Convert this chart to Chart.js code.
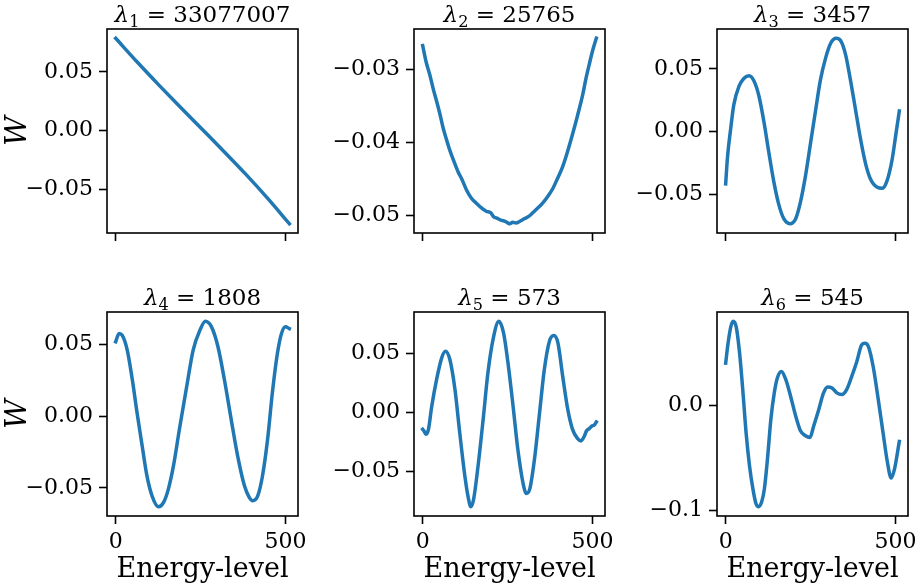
<!DOCTYPE html>
<html>
<head>
<meta charset="utf-8">
<script src="https://cdn.jsdelivr.net/npm/chart.js@4.4.1/dist/chart.umd.min.js"></script>
<style>
  html, body { margin: 0; padding: 0; background: #fff; }
  #wrap { position: relative; width: 917px; height: 588px; overflow: hidden; }
  canvas { position: absolute; }
</style>
</head>
<body>
<div id="wrap"></div>
<script>
// eigenvector components (energy level, W)
const lvl1 = [0, 64, 128, 192, 256, 320, 384, 448, 511];
const w1 = [0.0786, 0.0582, 0.0386, 0.0195, 0.0008, -0.0180, -0.0373, -0.0577, -0.0790];

const lvl2 = [0, 10, 21, 31, 41, 51, 60, 70, 80, 92, 104, 116, 129, 143, 158, 172, 187, 200, 210, 217,
  230, 244, 256, 265, 275, 285, 300, 312, 324, 338, 353, 368, 383, 397, 412, 426, 441, 456, 471, 480, 490, 500, 511];
const w2 = [-0.0268, -0.0290, -0.0308, -0.0327, -0.0344, -0.0362, -0.0380, -0.0396, -0.0411, -0.0426, -0.0440,
  -0.0451, -0.0465, -0.0476, -0.0483, -0.0489, -0.0494, -0.0496, -0.0502, -0.0503, -0.0506, -0.0508, -0.0511,
  -0.0509, -0.0510, -0.0508, -0.0504, -0.0501, -0.0496, -0.0490, -0.0483, -0.0474, -0.0463, -0.0449, -0.0433,
  -0.0413, -0.0389, -0.0363, -0.0335, -0.0314, -0.0294, -0.0275, -0.0258];

const lvl3 = [0, 5, 15, 24, 39, 54, 69, 83, 98, 113, 127, 142, 157, 171, 189, 206, 220, 235, 250, 265, 279, 294,
  309, 325, 340, 353, 367, 382, 397, 412, 426, 446, 461, 475, 490, 502, 511];
const w3 = [-0.0417, -0.0215, 0.0030, 0.0215, 0.0360, 0.0425, 0.0446, 0.0405, 0.0282, 0.0071, -0.0166, -0.0404,
  -0.0588, -0.0694, -0.0734, -0.0694, -0.0562, -0.0351, -0.0087, 0.0177, 0.0414, 0.0586, 0.0704, 0.0744, 0.0718,
  0.0612, 0.0414, 0.0177, -0.0061, -0.0259, -0.0377, -0.0443, -0.0451, -0.0390, -0.0220, 0.0000, 0.0164];

const lvl4 = [0, 10, 19, 34, 49, 63, 78, 92, 107, 126, 141, 155, 170, 189, 209, 228, 248, 264, 282, 301, 320,
  340, 359, 379, 393, 403, 418, 432, 447, 461, 476, 488, 500, 511];
const w4 = [0.0521, 0.0579, 0.0567, 0.0463, 0.0255, 0.0023, -0.0208, -0.0417, -0.0556, -0.0632, -0.0602, -0.0509,
  -0.0347, -0.0069, 0.0208, 0.0463, 0.0602, 0.0664, 0.0625, 0.0486, 0.0255, -0.0023, -0.0278, -0.0486, -0.0567,
  -0.0590, -0.0556, -0.0417, -0.0162, 0.0162, 0.0440, 0.0579, 0.0625, 0.0613];

const lvl5 = [0, 4, 9, 17, 26, 41, 56, 67, 80, 95, 109, 124, 134, 142, 150, 163, 178, 192, 207, 224, 238, 251,
  266, 280, 295, 305, 315, 329, 344, 358, 373, 386, 398, 412, 427, 441, 456, 466, 476, 482, 490, 498, 505, 511];
const w5 = [-0.0141, -0.0155, -0.0183, -0.0141, 0.0042, 0.0282, 0.0465, 0.0521, 0.0451, 0.0197, -0.0169, -0.0535,
  -0.0718, -0.0797, -0.0732, -0.0451, -0.0056, 0.0338, 0.0620, 0.0775, 0.0676, 0.0423, 0.0056, -0.0310, -0.0592,
  -0.0685, -0.0648, -0.0394, 0.0000, 0.0366, 0.0606, 0.0654, 0.0592, 0.0310, 0.0028, -0.0141, -0.0220, -0.0239,
  -0.0197, -0.0155, -0.0135, -0.0113, -0.0104, -0.0079];

const lvl6 = [0, 7, 15, 22, 31, 41, 51, 60, 70, 80, 89, 97, 106, 114, 123, 133, 143, 152, 164, 177, 191, 206,
  220, 235, 248, 259, 274, 288, 300, 313, 327, 342, 356, 371, 386, 400, 410, 420, 434, 449, 463, 476, 487, 497, 511];
const w6 = [0.0404, 0.0593, 0.0751, 0.0804, 0.0751, 0.0498, 0.0120, -0.0259, -0.0574, -0.0795, -0.0937, -0.0968,
  -0.0921, -0.0795, -0.0511, -0.0132, 0.0120, 0.0262, 0.0325, 0.0246, 0.0088, -0.0101, -0.0243, -0.0290, -0.0306,
  -0.0196, -0.0038, 0.0120, 0.0177, 0.0167, 0.0120, 0.0104, 0.0151, 0.0278, 0.0420, 0.0577, 0.0593, 0.0562,
  0.0372, 0.0057, -0.0259, -0.0543, -0.0694, -0.0606, -0.0344];

const levels = [lvl1, lvl2, lvl3, lvl4, lvl5, lvl6];
const weights = [w1, w2, w3, w4, w5, w6];

// titles: lambda_k = value
const lamIndex = ['1', '2', '3', '4', '5', '6'];
const lamValue = ['33077007', '25765', '3457', '1808', '573', '545'];

// tick labels
const xTicks = [0, 500];
const yTicks = [
  [-0.05, 0, 0.05],
  [-0.05, -0.04, -0.03],
  [-0.05, 0, 0.05],
  [-0.05, 0, 0.05],
  [-0.05, 0, 0.05],
  [-0.1, 0]
];
const yDecimals = [2, 2, 2, 2, 2, 1];
const nLevels = 512;

// layout of the plot boxes on the page
const colLeft = [107, 414, 717];
const rowTop = [29, 312];
const boxW = 191, boxH = 204;
const padL = 110, padT = 32, padR = 30, padB = 72;

const serif = 'DejaVu Serif';

const framePlugin = {
  id: 'frame',
  afterDraw(chart) {
    const { ctx, chartArea: a } = chart;
    ctx.save();
    ctx.strokeStyle = '#000';
    ctx.lineWidth = 1.6;
    ctx.strokeRect(a.left, a.top, a.right - a.left, a.bottom - a.top);
    ctx.restore();
  }
};

function titlePlugin(sub, val) {
  return {
    id: 'lamTitle',
    afterDraw(chart) {
      const ctx = chart.ctx, a = chart.chartArea;
      const size = 23;
      const main = size + 'px "' + serif + '"';
      const parts = [
        ['\u03bb', 'italic ' + main, 0],
        [sub, (size * 0.7) + 'px "' + serif + '"', 4.5],
        [' = ', main, 0],
        [val, main, 0]
      ];
      ctx.save();
      let total = 0;
      parts.forEach(p => { ctx.font = p[1]; p[3] = ctx.measureText(p[0]).width; total += p[3]; });
      let x = (a.left + a.right) / 2 - total / 2;
      const y = a.top - 7;
      ctx.fillStyle = '#000';
      ctx.textAlign = 'left';
      ctx.textBaseline = 'alphabetic';
      parts.forEach(p => { ctx.font = p[1]; ctx.fillText(p[0], x, y + p[2]); x += p[3]; });
      ctx.restore();
    }
  };
}

function fmt(v, d) {
  return Number(v).toFixed(d).replace('-', '\u2212');
}

const wrap = document.getElementById('wrap');

for (let i = 0; i < 6; i++) {
  const col = i % 3, row = Math.floor(i / 3);
  const canvas = document.createElement('canvas');
  canvas.width = padL + boxW + padR;
  canvas.height = padT + boxH + padB;
  canvas.style.left = (colLeft[col] - padL) + 'px';
  canvas.style.top = (rowTop[row] - padT) + 'px';
  wrap.appendChild(canvas);

  const xs = levels[i], ys = weights[i];
  const lo = Math.min(...ys), hi = Math.max(...ys);
  const m = (hi - lo) * 0.05;
  const xm = (nLevels - 1) * 0.05;
  const tickFont = { family: serif, size: 22 };
  const gridOpts = { display: true, drawOnChartArea: false, drawTicks: true, tickLength: 8, tickWidth: 1.6, tickColor: '#000' };

  new Chart(canvas, {
    type: 'line',
    data: {
      datasets: [{
        data: xs.map((x, j) => ({ x: x, y: ys[j] })),
        borderColor: '#1f77b4',
        borderWidth: 3.5,
        pointRadius: 0,
        fill: false,
        cubicInterpolationMode: 'monotone',
        borderJoinStyle: 'round',
        borderCapStyle: 'square'
      }]
    },
    options: {
      responsive: false,
      animation: false,
      events: [],
      layout: { padding: { left: 0, top: padT, right: padR, bottom: 0 } },
      plugins: { legend: { display: false }, tooltip: { enabled: false } },
      scales: {
        x: {
          type: 'linear',
          min: -xm,
          max: nLevels - 1 + xm,
          afterFit: s => { s.height = padB; },
          afterBuildTicks: s => { s.ticks = xTicks.map(v => ({ value: v })); },
          border: { display: false },
          grid: gridOpts,
          ticks: {
            display: row === 1,
            color: '#000',
            font: tickFont,
            padding: 5,
            maxRotation: 0,
            callback: v => String(v)
          },
          title: {
            display: row === 1,
            text: 'Energy-level',
            color: '#000',
            font: { family: serif, size: 27 },
            padding: { top: 0, bottom: 2 }
          }
        },
        y: {
          type: 'linear',
          min: lo - m,
          max: hi + m,
          afterFit: s => { s.width = padL; },
          afterBuildTicks: s => { s.ticks = yTicks[i].map(v => ({ value: v })); },
          border: { display: false },
          grid: gridOpts,
          ticks: {
            color: '#000',
            font: tickFont,
            padding: 6,
            callback: v => fmt(v, yDecimals[i])
          },
          title: {
            display: col === 0,
            text: 'W',
            color: '#000',
            font: { family: serif, size: 29, style: 'italic' },
            padding: { top: 4, bottom: 0 }
          }
        }
      }
    },
    plugins: [framePlugin, titlePlugin(lamIndex[i], lamValue[i])]
  });
}
</script>
</body>
</html>
